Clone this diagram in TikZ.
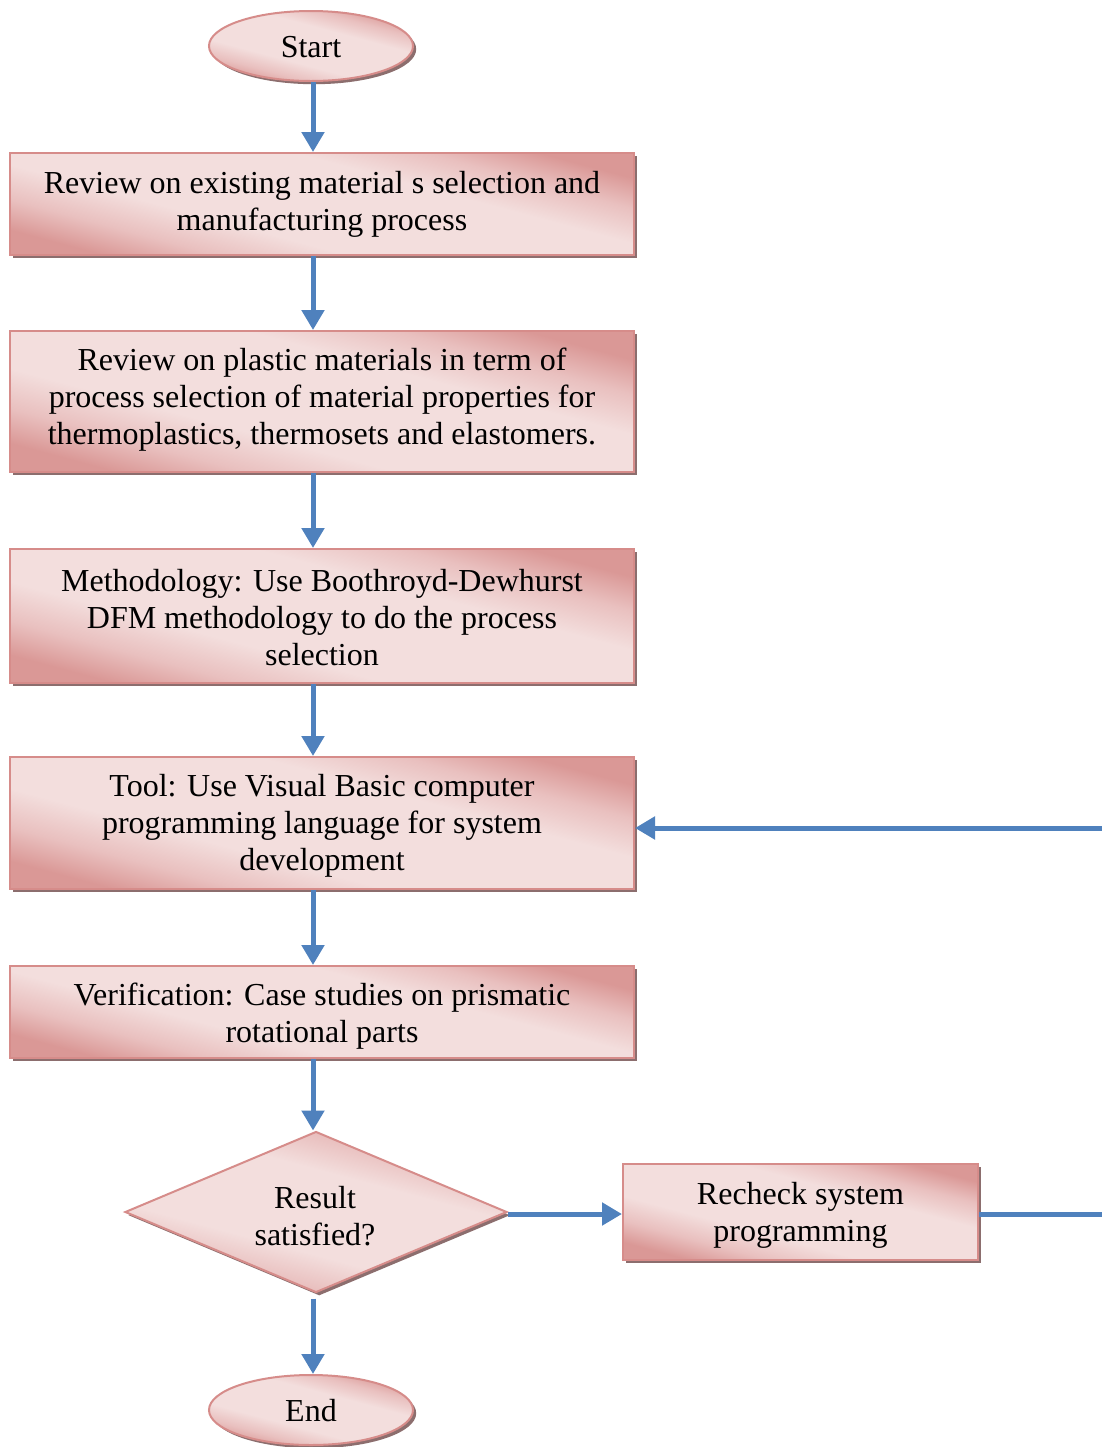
\documentclass[tikz,border=0pt]{standalone}
\usepackage{fontspec}
\setmainfont{Liberation Serif}
\usetikzlibrary{shapes.geometric,arrows.meta,shadows}
\definecolor{pklight}{RGB}{243,222,221}
\definecolor{pkmid}{RGB}{233,192,191}
\definecolor{pkdark}{RGB}{218,152,150}
\definecolor{pkborder}{RGB}{214,140,138}
\definecolor{shadowc}{RGB}{140,110,110}
\definecolor{arrblue}{RGB}{79,129,189}
\pgfdeclarehorizontalshading{pinkgrad}{100bp}{color(0bp)=(pkdark); color(25bp)=(pkdark); color(32bp)=(pkmid); color(40bp)=(pklight); color(60bp)=(pklight); color(68bp)=(pkmid); color(75bp)=(pkdark); color(100bp)=(pkdark)}
\tikzset{
  base/.style={draw=pkborder, line width=1pt, shading=pinkgrad, shading angle=75,
    align=center, inner sep=0pt,
    drop shadow={shadow xshift=1.6pt, shadow yshift=-1.6pt, fill=shadowc, opacity=1}},
  procbox/.style={base, rectangle, minimum width=312pt},
  term/.style={base, ellipse, minimum width=102pt, minimum height=35pt},
  decide/.style={base, diamond, aspect=2.4, minimum width=191pt, minimum height=80.5pt},
  arr/.style={draw=arrblue, line width=2.5pt, -{Triangle[width=11pt,length=10pt]}},
  txt/.style={font=\fontsize{16}{18.5}\selectfont, align=center, inner sep=0pt}
}
\begin{document}
\begin{tikzpicture}[x=0.5pt,y=-0.5pt]
\clip (0,0) rectangle (1102,1447);
\fill[white] (0,0) rectangle (1102,1447);
\coordinate (ax) at (313,0);
\node[term] (start) at (311,46) {};
\node[txt] (startt) at (311,47) {Start};
\node[procbox, minimum height=51pt] (b1) at (322,204) {};
\node[txt] (b1t) at (322,204) {Review on existing material s selection and\\manufacturing process};
\node[procbox, minimum height=70.5pt] (b2) at (322,401.5) {};
\node[txt] (b2t) at (322,400) {Review on plastic materials in term of\\process selection of material properties for\\thermoplastics, thermosets and elastomers.};
\node[procbox, minimum height=67pt] (b3) at (322,616) {};
\node[txt] (b3t) at (322,618) {Methodology: Use Boothroyd-Dewhurst\\DFM methodology to do the process\\selection};
\node[procbox, minimum height=66pt] (b4) at (322,823) {};
\node[txt] (b4t) at (322,826) {Tool: Use Visual Basic computer\\programming language for system\\development};
\node[procbox, minimum height=46pt] (b5) at (322,1012) {};
\node[txt] (b5t) at (322,1016) {Verification: Case studies on prismatic\\rotational parts};
\node[decide] (dec) at (316,1212) {};
\node[txt] (dect) at (315,1216) {Result\\satisfied?};
\node[base, rectangle, minimum width=177.5pt, minimum height=48pt] (rc) at (800.5,1212) {};
\node[txt] (rct) at (800.5,1215) {Recheck system\\programming};
\node[term] (end) at (311,1410) {};
\node[txt] (endt) at (311,1411) {End};

\draw[arr] (start.south -| ax) -- (b1.north -| ax);
\draw[arr] (b1.south -| ax) -- (b2.north -| ax);
\draw[arr] (b2.south -| ax) -- (b3.north -| ax);
\draw[arr] (b3.south -| ax) -- (b4.north -| ax);
\draw[arr] (b4.south -| ax) -- (b5.north -| ax);
\draw[arr] (b5.south -| ax) -- (dec.north -| ax);
\draw[arr] ([yshift=-2.5pt]dec.south -| ax) -- (end.north -| ax);
\draw[arr] ([yshift=-1pt]dec.east) -- ([yshift=-1pt]rc.west);
\draw[arr] ([yshift=-1pt]rc.east) -- ++(160,0) |- ([yshift=-2.5pt]b4.east);
\end{tikzpicture}
\end{document}
